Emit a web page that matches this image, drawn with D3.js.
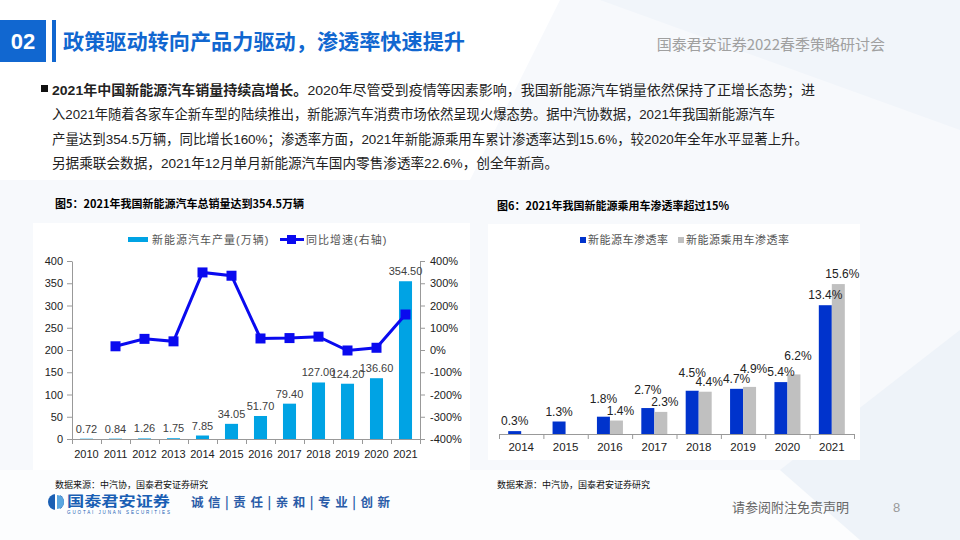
<!DOCTYPE html>
<meta charset="utf-8">
<style>
  body { margin: 0; }
  svg text { font-family: Arial, "Liberation Sans", "Noto Sans CJK SC", sans-serif; }
  .cjk { font-family: "Noto Sans CJK SC", sans-serif; }
  .axis path, .axis line { stroke: #999; }
  .axis text { fill: #222; font-size: 11px; }
</style>
<svg width="960" height="540"></svg>
<script src="https://d3js.org/d3.v7.min.js"></script>
<script>
  // chart 5 data
  var years5 = ["2010", "2011", "2012", "2013", "2014", "2015", "2016", "2017", "2018", "2019", "2020", "2021"];
  var output5 = [0.72, 0.84, 1.26, 1.75, 7.85, 34.05, 51.70, 79.40, 127.00, 124.20, 136.60, 354.50];
  var growth5 = [null, 16.7, 50, 38.9, 348.6, 333.8, 51.8, 53.6, 60, -2.2, 10, 159.5];
  var legend5 = ["新能源汽车产量(万辆)", "同比增速(右轴)"];

  // chart 6 data
  var years6 = ["2014", "2015", "2016", "2017", "2018", "2019", "2020", "2021"];
  var nev6 = [0.3, 1.3, 1.8, 2.7, 4.5, 4.7, 5.4, 13.4];
  var pv6 = [null, null, 1.4, 2.3, 4.4, 4.9, 6.2, 15.6];
  var legend6 = ["新能源车渗透率", "新能源乘用车渗透率"];

  var bodyLines = [
    [["2021年中国新能源汽车销量持续高增长。", true], ["2020年尽管受到疫情等因素影响，我国新能源汽车销量依然保持了正增长态势；进", false]],
    [["入2021年随着各家车企新车型的陆续推出，新能源汽车消费市场依然呈现火爆态势。据中汽协数据，2021年我国新能源汽车", false]],
    [["产量达到354.5万辆，同比增长160%；渗透率方面，2021年新能源乘用车累计渗透率达到15.6%，较2020年全年水平显著上升。", false]],
    [["另据乘联会数据，2021年12月单月新能源汽车国内零售渗透率22.6%，创全年新高。", false]]
  ];
  var bodyWidths = [763, 723, 756, 506];

  var svg = d3.select("svg");

  // ---- background ----
  svg.append("rect").attr("width", 960).attr("height", 540).attr("fill", "#f7f9fc");
  svg.append("path").attr("d", "M0,0H560L470,180H0Z").attr("fill", "#ffffff");
  svg.append("path").attr("d", "M0,470H960V540H0Z").attr("fill", "#ffffff").attr("opacity", 0.6);
  svg.append("path").attr("d", "M780,470L960,330V540H860Z").attr("fill", "#eef3f9");
  svg.append("path").attr("d", "M600,0H960V130Z").attr("fill", "#f1f5fa");

  // ---- header ----
  svg.append("rect").attr("x", 0).attr("y", 20).attr("width", 46).attr("height", 42).attr("fill", "#1167d0");
  svg.append("text").attr("x", 23).attr("y", 49).attr("text-anchor", "middle")
    .attr("fill", "#fff").style("font-size", "22px").style("font-weight", "bold").text("02");
  svg.append("rect").attr("x", 52).attr("y", 20).attr("width", 4).attr("height", 42).attr("fill", "#1167d0");
  svg.append("text").attr("class", "cjk").attr("x", 63).attr("y", 49)
    .attr("fill", "#1167d0").style("font-size", "21px").style("font-weight", "bold")
    .attr("textLength", 402).attr("lengthAdjust", "spacingAndGlyphs")
    .text("政策驱动转向产品力驱动，渗透率快速提升");
  svg.append("text").attr("class", "cjk").attr("x", 885).attr("y", 50).attr("text-anchor", "end")
    .attr("fill", "#a0a0a0").style("font-size", "15px")
    .text("国泰君安证券2022春季策略研讨会");

  // ---- body text ----
  svg.append("rect").attr("x", 41).attr("y", 85).attr("width", 7).attr("height", 7).attr("fill", "#111");
  var body = svg.append("g").attr("class", "cjk").style("font-size", "13.5px").attr("fill", "#222");
  bodyLines.forEach(function(line, i) {
    var t = body.append("text").attr("x", 52).attr("y", 95 + i * 24.3)
      .attr("textLength", bodyWidths[i]).attr("lengthAdjust", "spacingAndGlyphs");
    line.forEach(function(seg) {
      t.append("tspan").style("font-weight", seg[1] ? "bold" : "normal").text(seg[0]);
    });
  });

  // ---- panels ----
  svg.append("rect").attr("x", 33).attr("y", 223).attr("width", 437).attr("height", 247).attr("fill", "#fff");
  svg.append("rect").attr("x", 488).attr("y", 224).attr("width", 372).attr("height", 236).attr("fill", "#fff");

  svg.append("text").attr("class", "cjk").attr("x", 55).attr("y", 208)
    .attr("fill", "#000").style("font-size", "11px").style("font-weight", "bold")
    .text("图5：2021年我国新能源汽车总销量达到354.5万辆");
  svg.append("text").attr("class", "cjk").attr("x", 497).attr("y", 210)
    .attr("fill", "#000").style("font-size", "11px").style("font-weight", "bold")
    .text("图6：2021年我国新能源乘用车渗透率超过15%");

  // ---- chart 5 ----
  var x5 = d3.scaleBand().domain(years5).range([72, 420]).paddingInner(0.55).paddingOuter(0.275);
  var xb5 = d3.scaleLinear().domain([0, years5.length]).range([72, 420]);
  var yL = d3.scaleLinear().domain([0, 400]).range([439, 261]);
  var yR = d3.scaleLinear().domain([-400, 400]).range([439, 261]);

  var c5 = svg.append("g");

  c5.append("g").attr("class", "axis").attr("transform", "translate(72,0)")
    .call(d3.axisLeft(yL).tickValues(d3.range(0, 401, 50)).tickSize(5).tickPadding(4).tickSizeOuter(0));
  c5.append("g").attr("class", "axis").attr("transform", "translate(420,0)")
    .call(d3.axisRight(yR).tickValues(d3.range(-400, 401, 100)).tickSize(5).tickPadding(5).tickSizeOuter(0)
      .tickFormat(function(d) { return d + "%"; }));
  c5.append("g").attr("class", "axis").attr("transform", "translate(0,439)")
    .call(d3.axisBottom(xb5).tickValues(d3.range(0, years5.length + 1)).tickSize(5).tickSizeOuter(0).tickFormat(""));
  c5.selectAll(".year").data(years5).enter().append("text")
    .attr("x", function(d) { return x5(d) + x5.bandwidth() / 2; })
    .attr("y", 458).attr("text-anchor", "middle")
    .attr("fill", "#222").style("font-size", "11px").text(function(d) { return d; });

  c5.selectAll(".bar").data(output5).enter().append("rect")
    .attr("x", function(d, i) { return x5(years5[i]); })
    .attr("y", function(d) { return yL(d); })
    .attr("width", x5.bandwidth())
    .attr("height", function(d) { return 439 - yL(d); })
    .attr("fill", "#00a3e4");
  c5.selectAll(".blabel").data(output5).enter().append("text")
    .attr("x", function(d, i) { return x5(years5[i]) + x5.bandwidth() / 2; })
    .attr("y", function(d) { return yL(d) - 6; })
    .attr("text-anchor", "middle").attr("fill", "#404040").style("font-size", "11px")
    .text(function(d) { return d.toFixed(2); });

  var gpts = growth5.map(function(v, i) { return { year: years5[i], v: v }; })
    .filter(function(d) { return d.v !== null; });
  var line = d3.line()
    .x(function(d) { return x5(d.year) + x5.bandwidth() / 2; })
    .y(function(d) { return yR(d.v); });
  c5.append("path").datum(gpts).attr("d", line)
    .attr("fill", "none").attr("stroke", "#0a0aef").attr("stroke-width", 3);
  c5.selectAll(".mk").data(gpts).enter().append("rect")
    .attr("x", function(d) { return x5(d.year) + x5.bandwidth() / 2 - 5; })
    .attr("y", function(d) { return yR(d.v) - 5; })
    .attr("width", 10).attr("height", 10).attr("fill", "#0a0aef");

  // legend 5
  var lg5 = c5.append("g").attr("class", "cjk").style("font-size", "11px").attr("fill", "#555");
  lg5.append("rect").attr("x", 128).attr("y", 237).attr("width", 20).attr("height", 5).attr("fill", "#00a3e4");
  lg5.append("text").attr("x", 152).attr("y", 244).text(legend5[0]).style("letter-spacing", "1px");
  lg5.append("line").attr("x1", 280).attr("x2", 304).attr("y1", 239.5).attr("y2", 239.5)
    .attr("stroke", "#0a0aef").attr("stroke-width", 3);
  lg5.append("rect").attr("x", 287).attr("y", 235).attr("width", 9).attr("height", 9).attr("fill", "#0a0aef");
  lg5.append("text").attr("x", 306).attr("y", 244).text(legend5[1]).style("letter-spacing", "1px");

  // ---- chart 6 ----
  var x6 = d3.scaleBand().domain(years6).range([499, 854]).paddingInner(0.414).paddingOuter(0.207);
  var xb6 = d3.scaleLinear().domain([0, years6.length]).range([499, 854]);
  var sub6 = d3.scaleBand().domain(["nev", "pv"]).range([0, x6.bandwidth()]);
  var y6 = d3.scaleLinear().domain([0, 18]).range([434, 261]);

  var c6 = svg.append("g");
  var barLayer = c6.append("g");
  var labelLayer = c6.append("g");
  var series6 = [
    { key: "nev", vals: nev6, color: "#0033cc" },
    { key: "pv", vals: pv6, color: "#c0c0c0" }
  ];
  series6.forEach(function(s) {
    var pts = s.vals.map(function(v, i) { return { year: years6[i], v: v, i: i }; })
      .filter(function(d) { return d.v !== null; });
    barLayer.selectAll(".b-" + s.key).data(pts).enter().append("rect")
      .attr("x", function(d) { return x6(d.year) + sub6(s.key); })
      .attr("y", function(d) { return y6(d.v); })
      .attr("width", sub6.bandwidth())
      .attr("height", function(d) { return 434 - y6(d.v); })
      .attr("fill", s.color);
    labelLayer.selectAll(".l-" + s.key).data(pts).enter().append("text")
      .attr("x", function(d) {
        return x6(d.year) + sub6(s.key) + sub6.bandwidth() / 2 + (s.key === "pv" ? 4 : 0);
      })
      .attr("y", function(d) {
        // lift the taller label of a close pair so the two do not collide
        var other = s.key === "nev" ? pv6[d.i] : nev6[d.i];
        var lift = (other !== null && d.v > other && d.v - other < 1) ? 8 : 0;
        return y6(d.v) - 6 - lift;
      })
      .attr("text-anchor", "middle").attr("fill", "#222").style("font-size", "12px")
      .text(function(d) { return d.v.toFixed(1) + "%"; });
  });

  c6.append("g").attr("class", "axis").attr("transform", "translate(0,434)")
    .call(d3.axisBottom(xb6).tickValues(d3.range(0, years6.length + 1)).tickSize(5).tickSizeOuter(0).tickFormat(""))
    .selectAll("path, line").attr("stroke", "#bbb");
  c6.selectAll(".year").data(years6).enter().append("text")
    .attr("x", function(d) { return x6(d) + x6.bandwidth() / 2; })
    .attr("y", 451).attr("text-anchor", "middle")
    .attr("fill", "#222").style("font-size", "11.5px").text(function(d) { return d; });

  var lg6 = c6.append("g").attr("class", "cjk").style("font-size", "11px").attr("fill", "#555");
  lg6.append("rect").attr("x", 580).attr("y", 237).attr("width", 6).attr("height", 6).attr("fill", "#0033cc");
  lg6.append("text").attr("x", 588).attr("y", 244).text(legend6[0]).style("letter-spacing", "0.5px");
  lg6.append("rect").attr("x", 678).attr("y", 237).attr("width", 6).attr("height", 6).attr("fill", "#c0c0c0");
  lg6.append("text").attr("x", 686).attr("y", 244).text(legend6[1]).style("letter-spacing", "0.5px");

  // ---- sources & footer ----
  svg.append("text").attr("class", "cjk").attr("x", 55).attr("y", 488)
    .attr("fill", "#111").style("font-size", "9px").text("数据来源：中汽协，国泰君安证券研究");
  svg.append("text").attr("class", "cjk").attr("x", 497).attr("y", 488)
    .attr("fill", "#111").style("font-size", "9px").text("数据来源：中汽协，国泰君安证券研究");

  svg.append("circle").attr("cx", 56).attr("cy", 502).attr("r", 8).attr("fill", "#1a5fb4");
  svg.append("rect").attr("x", 55).attr("y", 494).attr("width", 5).attr("height", 16).attr("fill", "#fff");
  svg.append("path").attr("d", "M57,495A7,7 0 0 1 57,509Z").attr("fill", "#5aa6e0");
  svg.append("text").attr("class", "cjk").attr("x", 67).attr("y", 506)
    .attr("fill", "#1a5fb4").style("font-size", "14px").style("font-weight", "bold")
    .attr("textLength", 103).attr("lengthAdjust", "spacingAndGlyphs").text("国泰君安证券");
  svg.append("text").attr("x", 67).attr("y", 514)
    .attr("fill", "#1a5fb4").style("font-size", "4.5px")
    .attr("textLength", 103).text("GUOTAI JUNAN SECURITIES");
  svg.append("text").attr("class", "cjk").attr("x", 191).attr("y", 507)
    .attr("fill", "#2a5ca8").style("font-size", "12.5px").style("font-weight", "bold")
    .attr("xml:space", "preserve").attr("textLength", 199).attr("lengthAdjust", "spacing")
    .text("诚 信 | 责 任 | 亲 和 | 专 业 | 创 新");

  svg.append("text").attr("class", "cjk").attr("x", 732).attr("y", 512)
    .attr("fill", "#666").style("font-size", "13px").text("请参阅附注免责声明");
  svg.append("text").attr("x", 893).attr("y", 512)
    .attr("fill", "#999").style("font-size", "13px").text("8");
</script>
